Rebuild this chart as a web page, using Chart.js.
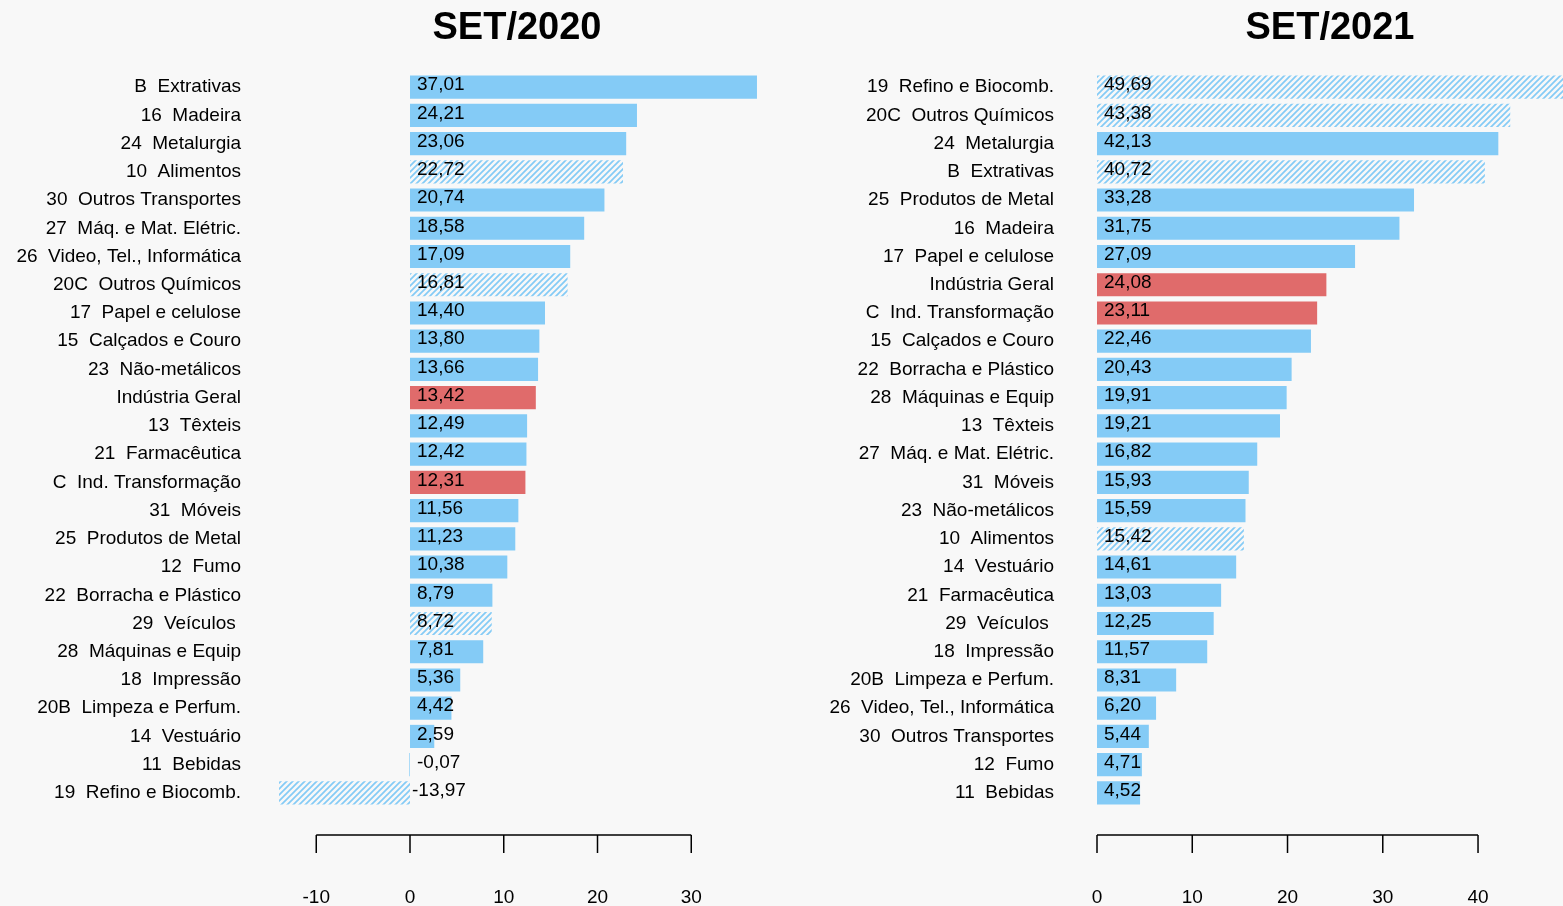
<!DOCTYPE html>
<html>
<head>
<meta charset="utf-8">
<script src="https://cdn.jsdelivr.net/npm/chart.js@4.4.1/dist/chart.umd.min.js"></script>
<style>
  html, body { margin: 0; padding: 0; background: #f8f8f8; overflow: hidden; }
  #wrap { position: relative; width: 1563px; height: 906px; }
  canvas { position: absolute; top: 0; }
  .ttl { position: absolute; top: 5px; font: bold 38px "Liberation Sans", Arial, sans-serif; color: #000; transform: translateX(-50%); }
</style>
</head>
<body>
<div id="wrap">
  <canvas id="c2020"></canvas>
  <canvas id="c2021"></canvas>
  <div class="ttl" style="left:517px">SET/2020</div>
  <div class="ttl" style="left:1330px">SET/2021</div>
</div>
<script>
// SET/2020
const labels2020 = [
  "B  Extrativas", "16  Madeira", "24  Metalurgia", "10  Alimentos", "30  Outros Transportes",
  "27  Máq. e Mat. Elétric.", "26  Video, Tel., Informática", "20C  Outros Químicos", "17  Papel e celulose",
  "15  Calçados e Couro", "23  Não-metálicos", "Indústria Geral", "13  Têxteis", "21  Farmacêutica",
  "C  Ind. Transformação", "31  Móveis", "25  Produtos de Metal", "12  Fumo", "22  Borracha e Plástico",
  "29  Veículos ", "28  Máquinas e Equip", "18  Impressão", "20B  Limpeza e Perfum.", "14  Vestuário",
  "11  Bebidas", "19  Refino e Biocomb."
];
const values2020 = [37.01, 24.21, 23.06, 22.72, 20.74, 18.58, 17.09, 16.81, 14.40, 13.80, 13.66, 13.42, 12.49,
  12.42, 12.31, 11.56, 11.23, 10.38, 8.79, 8.72, 7.81, 5.36, 4.42, 2.59, -0.07, -13.97];
// bar kind: s = solid, h = hatched, r = red (aggregate)
const kinds2020 = ["s","s","s","h","s","s","s","h","s","s","s","r","s","s","r","s","s","s","s","h","s","s","s","s","s","h"];
const ticks2020 = [-10, 0, 10, 20, 30];

// SET/2021
const labels2021 = [
  "19  Refino e Biocomb.", "20C  Outros Químicos", "24  Metalurgia", "B  Extrativas", "25  Produtos de Metal",
  "16  Madeira", "17  Papel e celulose", "Indústria Geral", "C  Ind. Transformação", "15  Calçados e Couro",
  "22  Borracha e Plástico", "28  Máquinas e Equip", "13  Têxteis", "27  Máq. e Mat. Elétric.", "31  Móveis",
  "23  Não-metálicos", "10  Alimentos", "14  Vestuário", "21  Farmacêutica", "29  Veículos ", "18  Impressão",
  "20B  Limpeza e Perfum.", "26  Video, Tel., Informática", "30  Outros Transportes", "12  Fumo", "11  Bebidas"
];
const values2021 = [49.69, 43.38, 42.13, 40.72, 33.28, 31.75, 27.09, 24.08, 23.11, 22.46, 20.43, 19.91, 19.21,
  16.82, 15.93, 15.59, 15.42, 14.61, 13.03, 12.25, 11.57, 8.31, 6.20, 5.44, 4.71, 4.52];
const kinds2021 = ["h","h","s","h","s","s","s","r","r","s","s","s","s","s","s","s","h","s","s","s","s","s","s","s","s","s"];
const ticks2021 = [0, 10, 20, 30, 40];

const FONT = '"Liberation Sans", Arial, sans-serif';
const BLUE = "#84cbf6";
const RED = "#e06b6b";

function hatch() {
  const c = document.createElement("canvas");
  c.width = 6; c.height = 6;
  const g = c.getContext("2d");
  g.strokeStyle = BLUE;
  g.lineWidth = 1.7;
  g.beginPath();
  g.moveTo(-1, 7); g.lineTo(7, -1);
  g.moveTo(-4, 4); g.lineTo(4, -4);
  g.moveTo(2, 10); g.lineTo(10, 2);
  g.stroke();
  return g.createPattern(c, "repeat");
}

const fmt = (v) => v.toFixed(2).replace(".", ",");

// value labels + bottom axis
const decor = (values, ticks) => ({
  id: "decor",
  afterDatasetsDraw(chart) {
    const { ctx, chartArea, scales: { x, y } } = chart;
    ctx.save();
    ctx.fillStyle = "#000";
    ctx.font = "19px " + FONT;
    ctx.textAlign = "left";
    ctx.textBaseline = "middle";
    const base = x.getPixelForValue(0);
    values.forEach((v, i) => {
      const py = y.getPixelForValue(i) - 2;
      ctx.fillText(fmt(v), v < -1 ? base + 2 : base + 7, py);
    });
    // axis
    const ay = chartArea.bottom + 28;
    const x0 = x.getPixelForValue(ticks[0]);
    const x1 = x.getPixelForValue(ticks[ticks.length - 1]);
    ctx.strokeStyle = "#000";
    ctx.lineWidth = 1.5;
    ctx.beginPath();
    ctx.moveTo(x0, ay); ctx.lineTo(x1, ay);
    ticks.forEach((t) => {
      const px = x.getPixelForValue(t);
      ctx.moveTo(px, ay); ctx.lineTo(px, ay + 18);
    });
    ctx.stroke();
    ctx.textAlign = "center";
    ticks.forEach((t) => ctx.fillText(String(t), x.getPixelForValue(t), ay + 63));
    ctx.restore();
  },
});

function makeChart(id, left, width, yWidth, labels, values, kinds, ticks, xmin, xmax) {
  const cv = document.getElementById(id);
  cv.style.left = left + "px";
  cv.style.width = width + "px";
  cv.style.height = "906px";
  const pat = hatch();
  const colors = kinds.map((k) => (k === "h" ? pat : k === "r" ? RED : BLUE));
  return new Chart(cv, {
    type: "bar",
    data: {
      labels,
      datasets: [{
        data: values,
        backgroundColor: colors,
        borderWidth: 0,
        categoryPercentage: 1,
        barPercentage: 0.82,
      }],
    },
    options: {
      indexAxis: "y",
      responsive: false,
      animation: false,
      events: [],
      layout: { padding: { top: 73, bottom: 99, left: 0, right: 0 } },
      plugins: { legend: { display: false }, tooltip: { enabled: false } },
      scales: {
        x: { display: false, min: xmin, max: xmax },
        y: {
          afterFit: (s) => { s.width = yWidth; },
          grid: { display: false, drawTicks: false },
          border: { display: false },
          ticks: { color: "#000", padding: 19, font: { family: FONT, size: 19 } },
        },
      },
    },
    plugins: [decor(values, ticks)],
  });
}

function setup(id, w) {
  const cv = document.getElementById(id);
  cv.width = w; cv.height = 906;
}
setup("c2020", 800);
setup("c2021", 773);

// left: plot area 260..800, 0 at 410, 9.375 px/unit
makeChart("c2020", 0, 800, 260, labels2020, values2020, kinds2020, ticks2020, -16, 41.6);
// right: plot area 1073..1563, 0 at 1097, 9.525 px/unit
makeChart("c2021", 790, 773, 283, labels2021, values2021, kinds2021, ticks2021, -2.52, 48.92);
</script>
</body>
</html>
